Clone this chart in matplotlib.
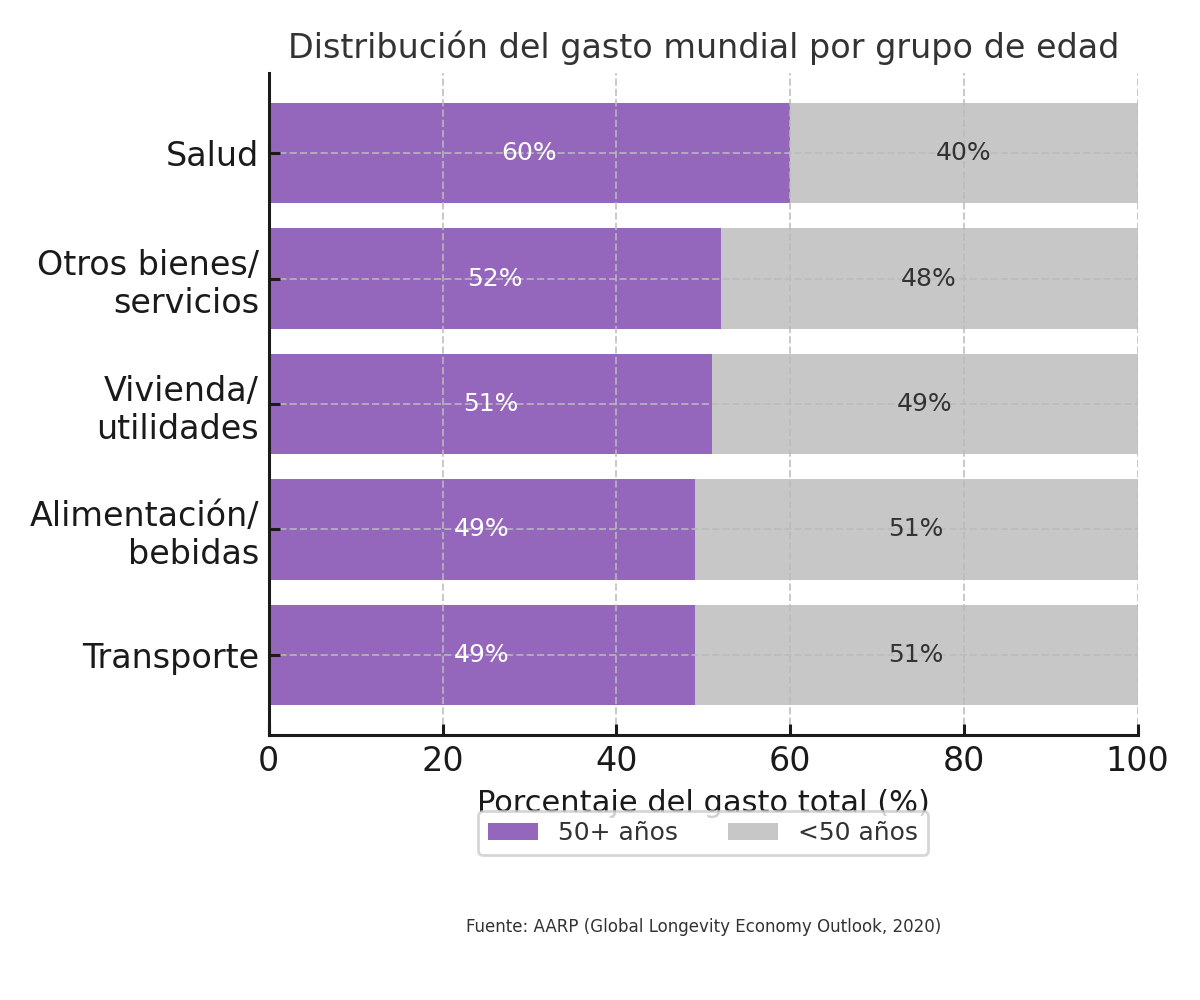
import matplotlib
matplotlib.use("Agg")
import matplotlib.pyplot as plt
import numpy as np

categories = ["Transporte", "Alimentación/\nbebidas", "Vivienda/\nutilidades",
              "Otros bienes/\nservicios", "Salud"]
mayores_50 = [49, 49, 51, 52, 60]
menores_50 = [51, 51, 49, 48, 40]
series_labels = ["50+ años", "<50 años"]
colors = ["#9467bd", "#c7c7c7"]

fig = plt.figure(figsize=(6, 5), dpi=200)
ax = fig.add_axes([0.224, 0.265, 0.724, 0.662])

y = np.arange(len(categories))
b1 = ax.barh(y, mayores_50, height=0.8, color=colors[0], label=series_labels[0], zorder=0.5)
b2 = ax.barh(y, menores_50, left=mayores_50, height=0.8, color=colors[1], label=series_labels[1], zorder=0.5)

ax.bar_label(b1, labels=[f"{v}%" for v in mayores_50], label_type="center",
             color="white", fontsize=9)
ax.bar_label(b2, labels=[f"{v}%" for v in menores_50], label_type="center",
             color="#333333", fontsize=9)

ax.set_xlim(0, 100)
ax.set_yticks(y)
ax.set_yticklabels(categories, fontsize=12, color="#1a1a1a")
ax.tick_params(axis="x", labelsize=12, colors="#1a1a1a")
ax.tick_params(axis="both", direction="in", length=4, width=1.1, color="#1a1a1a")
ax.set_axisbelow("line")
ax.grid(True, linestyle="--", color="#bbbbbb", linewidth=0.7, alpha=0.8)

for s in ["top", "right"]:
    ax.spines[s].set_visible(False)
for s in ["left", "bottom"]:
    ax.spines[s].set_color("#1a1a1a")
    ax.spines[s].set_linewidth(1.1)

ax.set_xlabel("Porcentaje del gasto total (%)", fontsize=11, color="#1a1a1a", labelpad=4)
ax.set_title("Distribución del gasto mundial por grupo de edad", fontsize=12,
             color="#333333", pad=5.5)

leg = ax.legend(loc="upper center", bbox_to_anchor=(0.5, -0.096), ncol=2,
                fontsize=9, frameon=True, labelcolor="#333333", columnspacing=2.0)
leg.get_frame().set_edgecolor("#cccccc")

fig.text(0.586, 0.073, "Fuente: AARP (Global Longevity Economy Outlook, 2020)",
         ha="center", va="center", fontsize=6.65, color="#333333",
         family="DejaVu Sans", fontstretch="condensed")

fig.savefig("out.png", dpi=200)
